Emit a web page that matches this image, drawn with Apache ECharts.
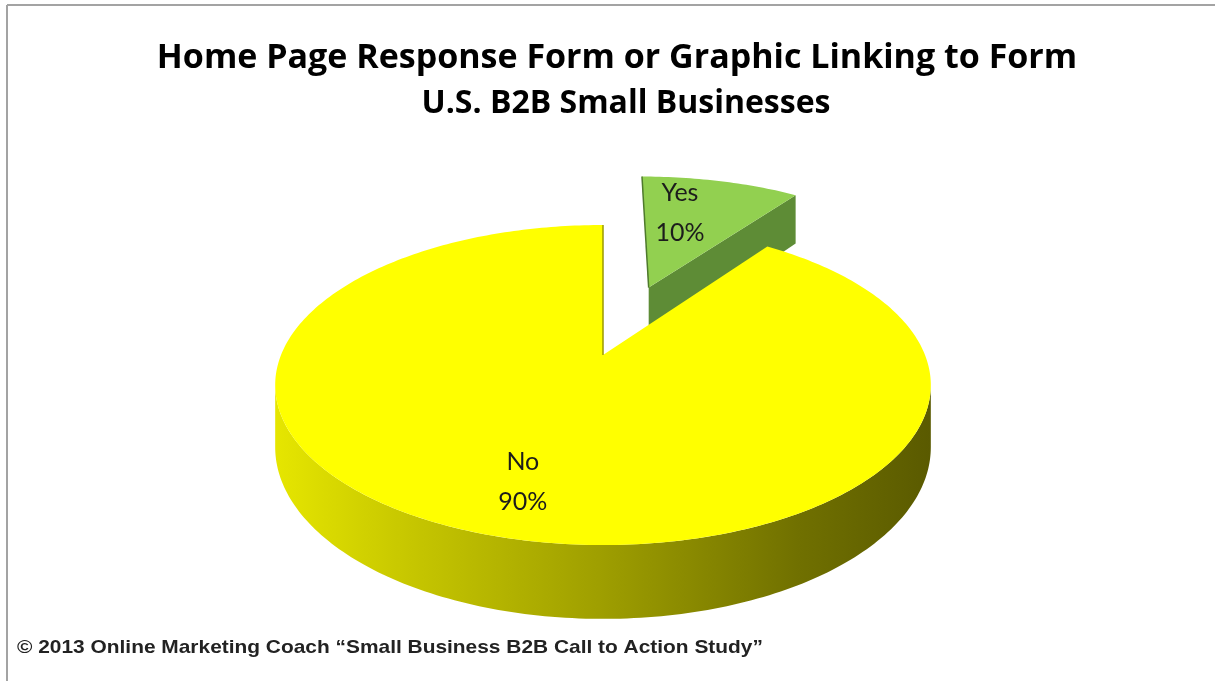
<!DOCTYPE html>
<html>
<head>
<meta charset="utf-8">
<script src="https://cdn.jsdelivr.net/npm/echarts@6/dist/echarts.min.js"></script>
<style>
html,body{margin:0;padding:0;background:#fff;}
#chart{width:1215px;height:681px;}
</style>
</head>
<body>
<div id="chart"></div>
<script>
// ---- data ----
const categories = ['Yes', 'No'];
const values = [10, 90];
const titleLines = ['Home Page Response Form or Graphic Linking to Form', 'U.S. B2B Small Businesses'];
const sourceNote = '\u00A9 2013 Online Marketing Coach \u201CSmall Business B2B Call to Action Study\u201D';

// ---- style / layout ----
const topColors = ['#92D050', '#FFFF00'];
const faceColors = ['#5E8C36', '#A8A800'];
const edgeColors = ['#4E7A2C', '#9A9A00'];
const explode = [0.5, 0];
const labelR = [0.55, 0.75];
const labelShift = [[-11, -12], [6, 0]];
const geo = { cx: 603, cy: 355, R: 322, Ry: 154.4, p: 0.1875, H: 60 };

const total = values.reduce((a, b) => a + b, 0);

function renderItem(params, api) {
  const i = params.dataIndex;
  let before = 0;
  for (let k = 0; k < i; k++) before += values[k];
  const start = before / total * 360;
  const end = start + api.value(0) / total * 360;
  const mid = (start + end) / 2 * Math.PI / 180;
  const ox = explode[i] * Math.sin(mid), oy = explode[i] * Math.cos(mid);
  function proj(deg, r, h) {
    const t = deg * Math.PI / 180;
    const u = ox + r * Math.sin(t), v = oy + r * Math.cos(t);
    const s = 1 / (1 + geo.p * v);
    return [geo.cx + geo.R * u * s, geo.cy - geo.Ry * v * s + geo.H * h * s];
  }
  function arc(a, b, h) {
    const pts = [];
    const n = Math.max(2, Math.ceil(Math.abs(b - a)));
    for (let k = 0; k <= n; k++) pts.push(proj(a + (b - a) * k / n, 1, h));
    return pts;
  }
  const children = [];
  // outer wall (visible part)
  const sil = Math.acos(-geo.p) * 180 / Math.PI;
  const w0 = Math.max(start, sil), w1 = Math.min(end, 360 - sil);
  if (w1 > w0) {
    const pts = arc(w0, w1, 0).concat(arc(w0, w1, 1).reverse());
    children.push({
      type: 'polygon',
      shape: { points: pts },
      style: {
        fill: i === 1 ? new echarts.graphic.LinearGradient(0, 0, 1, 0, [
          { offset: 0, color: '#E6E600' },
          { offset: 0.18, color: '#CACA00' },
          { offset: 0.5, color: '#9E9E00' },
          { offset: 0.8, color: '#707000' },
          { offset: 1, color: '#5A5A00' }
        ]) : faceColors[i]
      }
    });
  }
  // radial faces facing the viewer
  const sr = start * Math.PI / 180, er = end * Math.PI / 180;
  if (Math.sin(sr) < -1e-6) {
    children.push({ type: 'polygon', shape: { points: [proj(start, 0, 0), proj(start, 1, 0), proj(start, 1, 1), proj(start, 0, 1)] }, style: { fill: faceColors[i] } });
  }
  if (Math.sin(er) > 1e-6) {
    children.push({ type: 'polygon', shape: { points: [proj(end, 0, 0), proj(end, 1, 0), proj(end, 1, 1), proj(end, 0, 1)] }, style: { fill: faceColors[i] } });
  }
  // top face
  const topPts = [proj(start, 0, 0)].concat(arc(start, end, 0));
  children.push({ type: 'polygon', shape: { points: topPts }, style: { fill: topColors[i] } });
  // edge-on radial face at 12 o'clock
  [start, end].forEach(a => {
    if (Math.abs(Math.sin(a * Math.PI / 180)) < 1e-6 && Math.cos(a * Math.PI / 180) > 0) {
      const p0 = proj(a, 0, 0), p1 = proj(a, 1, 0);
      children.push({ type: 'line', shape: { x1: p0[0], y1: p0[1], x2: p1[0], y2: p1[1] }, style: { stroke: edgeColors[i], lineWidth: 1.5 } });
    }
  });
  // label
  const lp = proj((start + end) / 2, labelR[i], 0);
  children.push({
    type: 'text',
    style: {
      text: categories[i] + '\n' + Math.round(api.value(0) / total * 100) + '%',
      x: lp[0] + labelShift[i][0], y: lp[1] + labelShift[i][1],
      align: 'center', verticalAlign: 'middle',
      fontFamily: 'Lato', fontSize: 25, lineHeight: 40,
      fill: '#1c1c1c'
    }
  });
  return { type: 'group', children: children };
}

const chart = echarts.init(document.getElementById('chart'), null, { renderer: 'canvas' });
chart.setOption({
  backgroundColor: '#ffffff',
  animation: false,
  title: [
    {
      text: titleLines[0],
      left: 612, textAlign: 'center',
      top: 30,
      textStyle: { fontFamily: 'Open Sans', fontWeight: 'bold', fontSize: 34, lineHeight: 47, color: '#000' }
    },
    {
      text: titleLines[1],
      left: 621, textAlign: 'center',
      top: 75,
      textStyle: { fontFamily: 'Open Sans', fontWeight: 'bold', fontSize: 32, lineHeight: 47, color: '#000' }
    }
  ],
  graphic: [
    { type: 'line', shape: { x1: 7, y1: 5, x2: 1215, y2: 5 }, style: { stroke: '#a3a3a3', lineWidth: 2 } },
    { type: 'line', shape: { x1: 7, y1: 5, x2: 7, y2: 681 }, style: { stroke: '#a3a3a3', lineWidth: 2 } },
    { type: 'text', x: 17, y: 648, scaleX: 1.1, style: { text: sourceNote, fontFamily: 'Liberation Sans', fontWeight: 'bold', fontSize: 19, fill: '#222', verticalAlign: 'middle' } }
  ],
  series: [{
    type: 'custom',
    coordinateSystem: 'none',
    renderItem: renderItem,
    data: values.map((v, i) => ({ name: categories[i], value: [v] }))
  }]
});
</script>
</body>
</html>
